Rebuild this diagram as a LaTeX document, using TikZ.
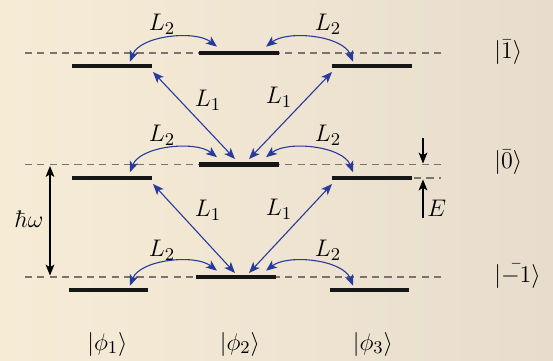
\documentclass[tikz,border=0pt]{standalone}
\usetikzlibrary{arrows.meta}
\definecolor{bgL}{RGB}{246,236,214}
\definecolor{bgR}{RGB}{232,221,205}
\definecolor{arrblue}{RGB}{40,58,158}
\definecolor{dashgray}{RGB}{120,116,110}
\definecolor{barblack}{RGB}{22,22,22}
\begin{document}
\begin{tikzpicture}[x=0.5pt,y=-0.5pt,
  font=\fontsize{13}{15.5}\selectfont,
  levelbar/.style={barblack, line width=2.3pt},
  dashlvl/.style={dashgray, line width=0.6pt, dash pattern=on 3.6pt off 2.6pt},
  larr/.style={arrblue, line width=0.55pt,
    {Stealth[length=5.5pt,width=4.4pt,inset=1.4pt]}-{Stealth[length=5.5pt,width=4.4pt,inset=1.4pt]}},
  blkarr/.style={black, line width=0.55pt, -{Stealth[length=5.5pt,width=4.4pt,inset=1.4pt]}},
  blkdbl/.style={black, line width=0.55pt,
    {Stealth[length=5.5pt,width=4.4pt,inset=1.4pt]}-{Stealth[length=5.5pt,width=4.4pt,inset=1.4pt]}},
  lab/.style={inner sep=0pt}]
\useasboundingbox (0,0) rectangle (553,360);
\shade[left color=bgL, right color=bgR] (0,0) rectangle (553,360);

% dashed reference lines
\coordinate (dT1) at (24.7,53);    \coordinate (dT2) at (441,53);
\coordinate (dM1) at (24.7,164.5); \coordinate (dM2) at (441,164.5);
\coordinate (dB1) at (24.7,277);   \coordinate (dB2) at (441,277);
\draw[dashlvl] (dT1) -- (dT2);
\draw[dashlvl] (dM1) -- (dM2);
\draw[dashlvl] (dB1) -- (dB2);
\coordinate (dE1) at (414,178); \coordinate (dE2) at (441,178);
\draw[dashlvl] (dE1) -- (dE2);

% level bars
\draw[levelbar] (72,66) -- (152,66);
\draw[levelbar] (199,53) -- (279,53);
\draw[levelbar] (332,66) -- (412,66);
\draw[levelbar] (72,178) -- (152,178);
\draw[levelbar] (199,164.5) -- (279,164.5);
\draw[levelbar] (332,178) -- (412,178);
\draw[levelbar] (69,290) -- (148,290);
\draw[levelbar] (196,277) -- (276,277);
\draw[levelbar] (330,290) -- (409,290);

% L2 arcs
\foreach \i/\dy in {1/0,2/110.5,3/224}{
  \begin{scope}[shift={(0,\dy)}]
    \coordinate (la\i) at (130,61.7);
    \coordinate (lb\i) at (217,46.7);
    \coordinate (ra\i) at (266,46.7);
    \coordinate (rb\i) at (353,61.7);
    \draw[larr] (la\i) .. controls +(10,-26) and +(-22,-17) .. (lb\i);
    \draw[larr] (ra\i) .. controls +(22,-17) and +(-10,-26) .. (rb\i);
  \end{scope}
}
\node[lab] (l2a) at (162,24) {$L_2$};
\node[lab] (l2b) at (328,24) {$L_2$};
\node[lab] (l2c) at (162,135) {$L_2$};
\node[lab] (l2d) at (328,135) {$L_2$};
\node[lab] (l2e) at (162,250) {$L_2$};
\node[lab] (l2f) at (328,250) {$L_2$};

% L1 arrows
\coordinate (p1) at (153,72);  \coordinate (q1) at (235,159);
\coordinate (p2) at (332,72);  \coordinate (q2) at (249,159);
\coordinate (p3) at (153,184); \coordinate (q3) at (235,273);
\coordinate (p4) at (332,184); \coordinate (q4) at (249,273);
\draw[larr] (p1) -- (q1);
\draw[larr] (p2) -- (q2);
\draw[larr] (p3) -- (q3);
\draw[larr] (p4) -- (q4);
\node[lab] (l1a) at (208,100) {$L_1$};
\node[lab] (l1b) at (279,97) {$L_1$};
\node[lab] (l1c) at (208,210) {$L_1$};
\node[lab] (l1d) at (279,209) {$L_1$};

% hbar omega
\coordinate (w1) at (50,166); \coordinate (w2) at (50,275.5);
\draw[blkdbl] (w1) -- (w2);
\node[lab] (hw) at (29,219) {$\hbar\omega$};

% E
\coordinate (e1) at (423,138); \coordinate (e2) at (423,163.5);
\coordinate (e3) at (423,218); \coordinate (e4) at (423,179.5);
\draw[blkarr] (e1) -- (e2);
\draw[blkarr] (e3) -- (e4);
\node[lab, anchor=west] (E) at (427,208) {$E$};

% state labels
\node[lab, anchor=west] (s1) at (494,52) {$|\bar{1}\rangle$};
\node[lab, anchor=west] (s0) at (494,162) {$|\bar{0}\rangle$};
\node[lab, anchor=west] (sm) at (494,276) {$|\bar{-1}\rangle$};
\node[lab] (f1) at (107.5,344) {$|\phi_1\rangle$};
\node[lab] (f2) at (240,344) {$|\phi_2\rangle$};
\node[lab] (f3) at (373,344) {$|\phi_3\rangle$};
\end{tikzpicture}
\end{document}
